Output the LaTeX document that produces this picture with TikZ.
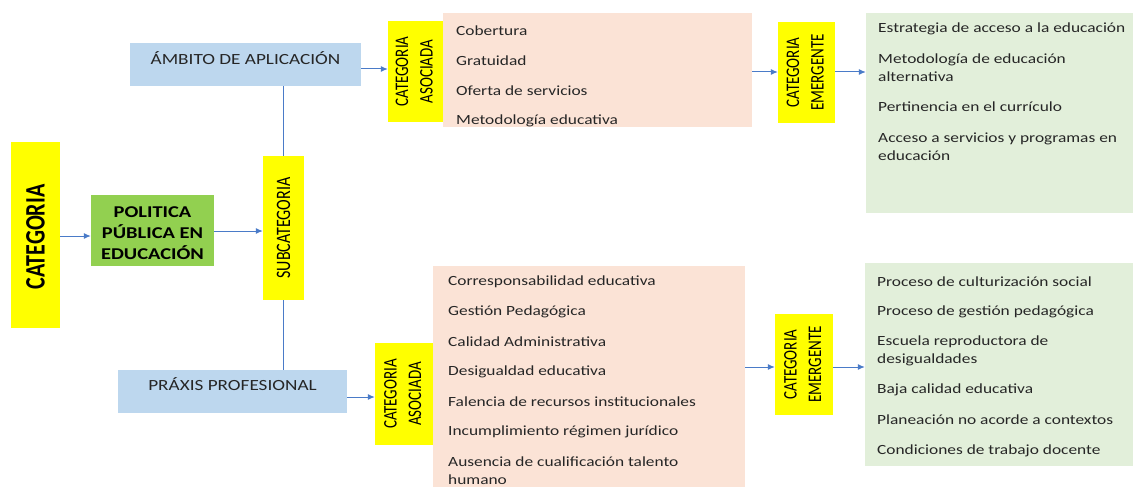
\documentclass[tikz,border=0pt]{standalone}
\usepackage{fontspec}
\setmainfont{Carlito}
\newfontfamily\wfont[FakeStretch=1.24]{Carlito}
\usetikzlibrary{arrows.meta}
\definecolor{ylw}{HTML}{FFFF00}
\definecolor{grn}{HTML}{92D050}
\definecolor{lblue}{HTML}{BDD7EE}
\definecolor{peach}{HTML}{FBE3D6}
\definecolor{lgrn}{HTML}{E2EFDA}
\definecolor{arr}{HTML}{4A7BC8}
\newcommand{\vst}[1]{\scalebox{1}[1.28]{#1}}
\tikzset{
  ybox/.style={fill=ylw, draw=none, inner sep=0pt},
  fillbox/.style={draw=none, inner sep=0pt},
  item/.style={anchor=west, inner sep=0pt, yshift=-1.5pt, font=\wfont\fontsize{14}{18}\selectfont, text=black!85},
  witem/.style={anchor=north west, inner sep=0pt, yshift=-1.5pt, font=\wfont\fontsize{14}{18}\selectfont, text=black!85, align=left},
  conn/.style={draw=arr, line width=1pt, -{Latex[length=7pt,width=6pt]}},
  line/.style={draw=arr, line width=1pt},
  vtxt/.style={rotate=90, inner sep=0pt},
}
\begin{document}
\begin{tikzpicture}[x=1pt,y=-1pt]
\useasboundingbox (0,0) rectangle (1133,487);
% boxes
\node[ybox, minimum width=49pt, minimum height=186pt] (cat) at (35.5,235) {};
\node[vtxt, font=\fontsize{22}{24}\bfseries\selectfont] (catt) at ([yshift=-2pt]cat.center) {\vst{CATEGORIA}};
\node[fillbox, fill=grn, minimum width=123pt, minimum height=71pt] (pol) at (152.5,230.5) {};
\node[inner sep=0pt, align=center, font=\wfont\fontsize{16.5}{21}\bfseries\selectfont] (polt) at ([yshift=-2.5pt]pol.center) {POLITICA\\PÚBLICA EN\\EDUCACIÓN};
\node[ybox, minimum width=41pt, minimum height=144pt] (sub) at (283.5,228) {};
\node[vtxt, font=\fontsize{16}{18}\selectfont] (subt) at (sub.center) {\vst{SUBCATEGORIA}};
% top branch
\node[fillbox, fill=lblue, minimum width=231pt, minimum height=43pt] (amb) at (245.5,64.5) {};
\node[inner sep=0pt, font=\wfont\fontsize{15.5}{18}\selectfont, text=black!85] (ambt) at (245.5,58.5) {ÁMBITO DE APLICACIÓN};
\node[ybox, minimum width=55pt, minimum height=101pt] (ca1) at (415.5,71.5) {};
\node[vtxt, font=\fontsize{15}{19}\selectfont] (ca1t) at (ca1.center) {\vst{\begin{tabular}{@{}c@{}}CATEGORIA\\ASOCIADA\end{tabular}}};
\node[fillbox, fill=peach, minimum width=309pt, minimum height=114pt] (p1) at (597.5,70) {};
\node[item] (p1a) at (456,29) {Cobertura};
\node[item] (p1b) at (456,59) {Gratuidad};
\node[item] (p1c) at (456,89) {Oferta de servicios};
\node[item] (p1d) at (456,119) {Metodología educativa};
\node[ybox, minimum width=57pt, minimum height=101pt] (ce1) at (806.5,72.5) {};
\node[vtxt, font=\fontsize{15}{19}\selectfont] (ce1t) at (ce1.center) {\vst{\begin{tabular}{@{}c@{}}CATEGORIA\\EMERGENTE\end{tabular}}};
\node[fillbox, fill=lgrn, minimum width=267pt, minimum height=200pt] (g1) at (999.5,113) {};
\node[item] (g1a) at (878,27) {Estrategia de acceso a la educación};
\node[witem] (g1b) at (878,52) {Metodología de educación\\alternativa};
\node[item] (g1c) at (878,105) {Pertinencia en el currículo};
\node[witem] (g1d) at (878,131) {Acceso a servicios y programas en\\educación};
% bottom branch
\node[fillbox, fill=lblue, minimum width=229pt, minimum height=43pt] (pra) at (232.5,391.5) {};
\node[inner sep=0pt, font=\wfont\fontsize{15.5}{18}\selectfont, text=black!85] (prat) at (232.5,384.5) {PRÁXIS PROFESIONAL};
\node[ybox, minimum width=58pt, minimum height=102pt] (ca2) at (404,394) {};
\node[vtxt, font=\fontsize{15}{19}\selectfont] (ca2t) at (ca2.center) {\vst{\begin{tabular}{@{}c@{}}CATEGORIA\\ASOCIADA\end{tabular}}};
\node[fillbox, fill=peach, minimum width=312pt, minimum height=221pt] (p2) at (589,376.5) {};
\node[item] (p2a) at (448,280) {Corresponsabilidad educativa};
\node[item] (p2b) at (448,310) {Gestión Pedagógica};
\node[item] (p2c) at (448,340) {Calidad Administrativa};
\node[item] (p2d) at (448,370) {Desigualdad educativa};
\node[item] (p2e) at (448,400) {Falencia de recursos institucionales};
\node[item] (p2f) at (448,430) {Incumplimiento régimen jurídico};
\node[witem] (p2g) at (448,455) {Ausencia de cualificación talento\\humano};
\node[ybox, minimum width=58pt, minimum height=101pt] (ce2) at (804,364.5) {};
\node[vtxt, font=\fontsize{15}{19}\selectfont] (ce2t) at (ce2.center) {\vst{\begin{tabular}{@{}c@{}}CATEGORIA\\EMERGENTE\end{tabular}}};
\node[fillbox, fill=lgrn, minimum width=268pt, minimum height=203pt] (g2) at (999,364.5) {};
\node[item] (g2a) at (877,280) {Proceso de culturización social};
\node[item] (g2b) at (877,310) {Proceso de gestión pedagógica};
\node[witem] (g2c) at (877,334) {Escuela reproductora de\\desigualdades};
\node[item] (g2d) at (877,388) {Baja calidad educativa};
\node[item] (g2e) at (877,418) {Planeación no acorde a contextos};
\node[item] (g2f) at (877,449) {Condiciones de trabajo docente};
% connectors
\draw[conn] (cat.east |- 0,236) -- (pol.west |- 0,236);
\draw[conn] (pol.east |- 0,231) -- (sub.west |- 0,231);
\draw[line] (amb.south -| sub.north) -- (sub.north);
\draw[line] (sub.south) -- (pra.north -| sub.south);
\draw[conn] (amb.east |- 0,69) -- (ca1.west |- 0,69);
\draw[conn] (p1.east |- 0,72) -- (ce1.west |- 0,72);
\draw[conn] (ce1.east |- 0,72) -- (g1.west |- 0,72);
\draw[conn] (pra.east |- 0,397) -- (ca2.west |- 0,397);
\draw[conn] (p2.east |- 0,367) -- (ce2.west |- 0,367);
\draw[conn] (ce2.east |- 0,367) -- (g2.west |- 0,367);
\end{tikzpicture}
\end{document}
